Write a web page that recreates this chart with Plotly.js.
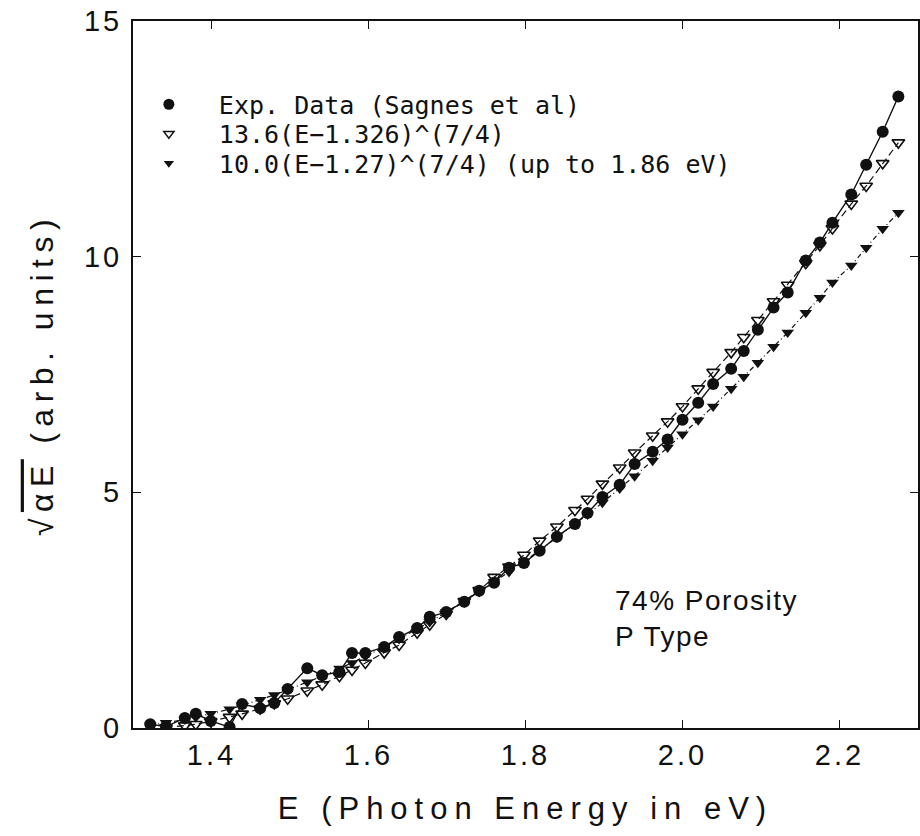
<!DOCTYPE html>
<html><head><meta charset="utf-8">
<script src="https://cdn.plot.ly/plotly-3.0.1.min.js"></script>
<style>
body{margin:0;background:#fff}
.xtitle{letter-spacing:7px}
.ytitle{letter-spacing:6.5px}
.annotation-text{letter-spacing:1.5px}
.xtick text, .ytick text{letter-spacing:3px}
</style>
</head><body>
<div id="chart" style="width:920px;height:836px"></div>
<script>
// Photon energy (eV)
const energy = [1.322,1.342,1.366,1.380,1.399,1.423,1.439,1.462,1.480,1.497,1.522,1.541,1.563,1.579,1.596,1.620,1.639,1.662,1.678,1.699,1.722,1.741,1.760,1.779,1.798,1.818,1.840,1.863,1.879,1.898,1.920,1.939,1.962,1.981,2.000,2.020,2.039,2.062,2.078,2.096,2.116,2.134,2.157,2.175,2.191,2.215,2.234,2.255,2.275];
// Exp. Data (Sagnes et al)
const expData = [0.08,0.03,0.21,0.30,0.15,0.02,0.51,0.42,0.53,0.83,1.27,1.12,1.19,1.59,1.59,1.72,1.93,2.12,2.36,2.46,2.68,2.91,3.08,3.40,3.50,3.76,4.06,4.33,4.56,4.90,5.16,5.60,5.86,6.12,6.54,6.90,7.30,7.62,8.00,8.45,8.92,9.24,9.92,10.30,10.72,11.32,11.95,12.65,13.40];
// 13.6(E-1.326)^(7/4)
const fitA = [null,0.01,0.05,0.08,0.14,0.23,0.30,0.41,0.52,0.62,0.79,0.92,1.10,1.23,1.38,1.60,1.76,2.02,2.19,2.42,2.69,2.92,3.20,3.42,3.67,3.97,4.27,4.62,4.86,5.18,5.52,5.84,6.20,6.50,6.82,7.20,7.55,7.97,8.29,8.65,9.05,9.40,9.86,10.24,10.60,11.12,11.50,11.98,12.42];
// 10.0(E-1.27)^(7/4) (up to 1.86 eV)
const fitB = [0.06,0.11,0.18,0.23,0.30,0.40,0.48,0.60,0.70,0.81,0.97,1.10,1.26,1.38,1.52,1.72,1.89,2.10,2.25,2.46,2.69,2.89,3.10,3.31,3.53,3.77,4.04,4.33,4.53,4.78,5.08,5.34,5.67,5.95,6.23,6.53,6.82,7.20,7.45,7.75,8.09,8.39,8.81,9.13,9.45,9.81,10.19,10.59,10.93];

const seriesNames = ['Exp. Data (Sagnes et al)', '13.6(E\u22121.326)^(7/4)', '10.0(E\u22121.27)^(7/4) (up to 1.86 eV)'];
const xTickVals = [1.4,1.6,1.8,2.0,2.2];
const xTickText = ['1.4','1.6','1.8','2.0','2.2'];
const yTickVals = [0,5,10,15];
const yTickText = ['0','5','10','15'];

const FONT = 'Liberation Sans, Arial, sans-serif';
const LFONT = 'DejaVu Sans Mono, Liberation Mono, monospace';
const INK = '#111';

const traces = [
  {x: energy, y: fitB, mode: 'lines+markers', showlegend: false,
   line: {color: INK, width: 1.2, dash: '5px,3px,1px,3px'},
   marker: {symbol: 'triangle-down', size: 11, color: INK}},
  {x: energy, y: fitA, mode: 'lines+markers', showlegend: false,
   line: {color: INK, width: 1.2, dash: '7px,4px'},
   marker: {symbol: 'triangle-down-open', size: 11, color: INK, line: {width: 1.6, color: INK}}},
  {x: energy, y: expData, mode: 'lines+markers', showlegend: false,
   line: {color: INK, width: 1.4},
   marker: {symbol: 'circle', size: 12, color: INK}},
  // legend entries (markers only)
  {x: [null], y: [null], mode: 'markers', name: seriesNames[0], legend: 'legend',
   marker: {symbol: 'circle', size: 11, color: INK}},
  {x: [null], y: [null], mode: 'markers', name: seriesNames[1], legend: 'legend2',
   marker: {symbol: 'triangle-down-open', size: 9, color: INK, line: {width: 1.4, color: INK}}},
  {x: [null], y: [null], mode: 'markers', name: seriesNames[2], legend: 'legend3',
   marker: {symbol: 'triangle-down', size: 9, color: INK}}
];

const legendBase = {bgcolor: 'rgba(0,0,0,0)', borderwidth: 0, font: {family: LFONT, size: 25, color: INK},
  xanchor: 'left', yanchor: 'middle', itemwidth: 90, tracegroupgap: 0};

const layout = {
  width: 920, height: 836,
  margin: {l: 133, r: 2, t: 21, b: 108},
  paper_bgcolor: '#fff', plot_bgcolor: '#fff',
  font: {family: FONT, color: INK},
  xaxis: {range: [1.3, 2.3], tickvals: xTickVals, ticktext: xTickText,
    ticks: 'inside', ticklen: 8, tickwidth: 1.5, tickcolor: INK,
    showline: true, linecolor: INK, linewidth: 2, mirror: 'ticks',
    showgrid: false, zeroline: false,
    tickfont: {family: FONT, size: 29, color: INK},
    title: {text: 'E (Photon Energy in eV)', font: {family: FONT, size: 31, color: INK}, standoff: 28}},
  yaxis: {range: [0, 15], tickvals: yTickVals, ticktext: yTickText,
    ticks: 'inside', ticklen: 8, tickwidth: 1.5, tickcolor: INK,
    showline: true, linecolor: INK, linewidth: 2, mirror: 'ticks',
    showgrid: false, zeroline: false, ticklabelstandoff: 3,
    tickfont: {family: FONT, size: 29, color: INK},
    title: {text: '\u221A<span style="text-decoration:overline">\u03B1E</span> (arb. units)', font: {family: FONT, size: 32, color: INK}, standoff: 21}},
  legend: Object.assign({}, legendBase, {x: -0.018, y: 0.8819}),
  legend2: Object.assign({}, legendBase, {x: -0.018, y: 0.8402}),
  legend3: Object.assign({}, legendBase, {x: -0.018, y: 0.7985}),
  annotations: [
    {text: '74% Porosity', xref: 'paper', yref: 'paper', x: 0.612, y: 0.181, xanchor: 'left', yanchor: 'middle', showarrow: false, font: {family: FONT, size: 28, color: INK}},
    {text: 'P Type', xref: 'paper', yref: 'paper', x: 0.612, y: 0.129, xanchor: 'left', yanchor: 'middle', showarrow: false, font: {family: FONT, size: 28, color: INK}}
  ]
};

Plotly.newPlot('chart', traces, layout, {displayModeBar: false, staticPlot: true});
</script>
</body></html>
